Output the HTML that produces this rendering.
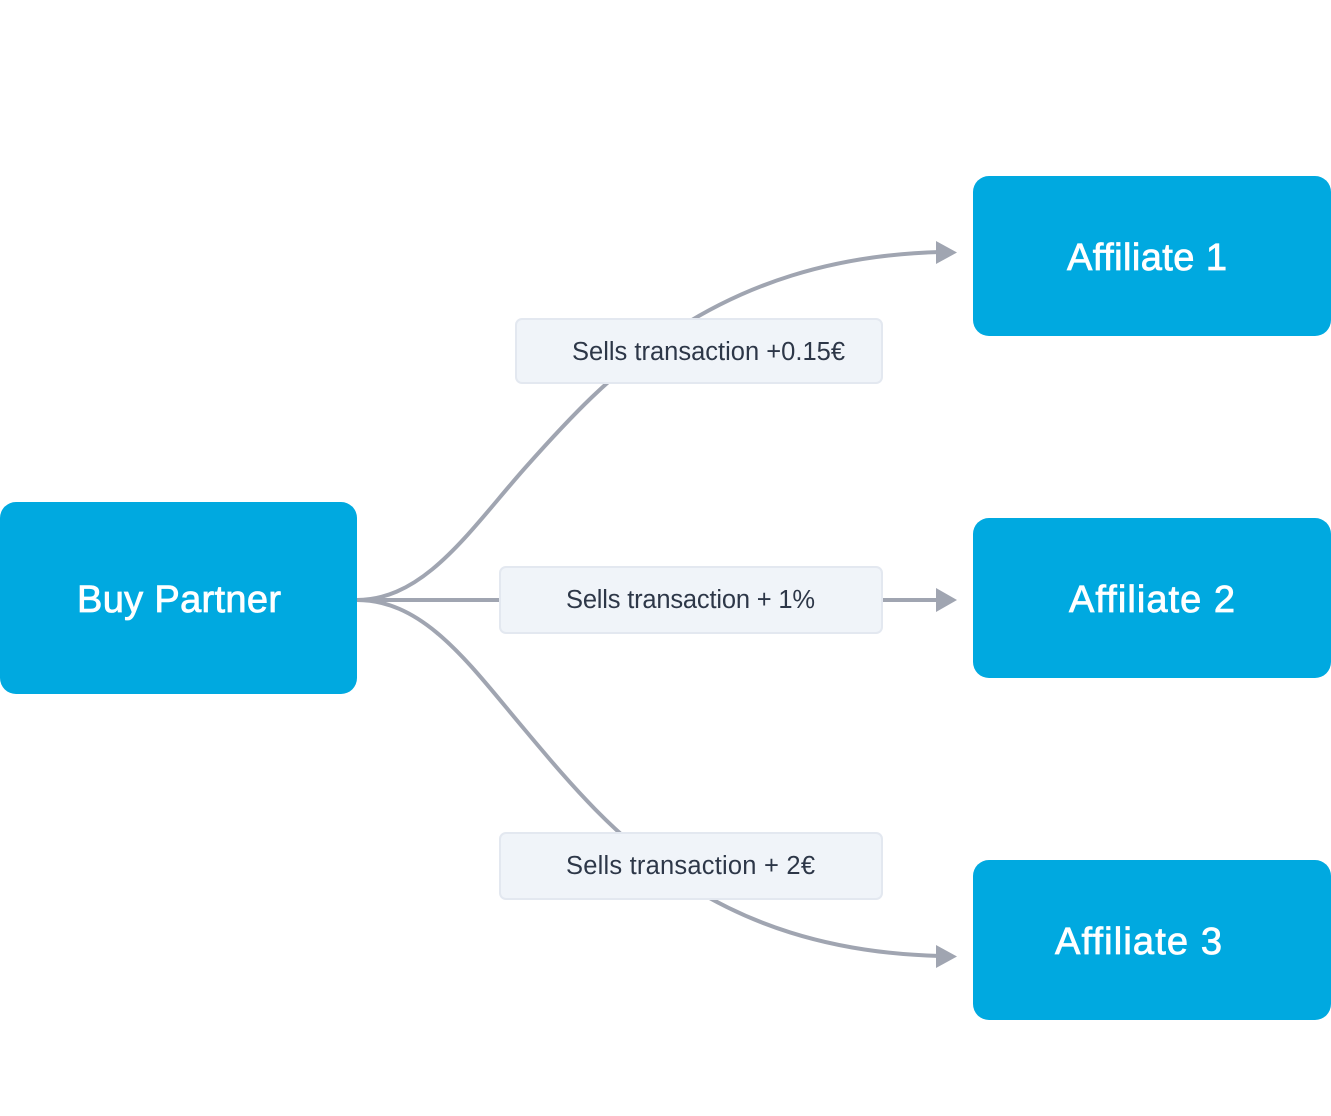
<!DOCTYPE html>
<html>
<head>
<meta charset="utf-8">
<style>
html,body{margin:0;padding:0;background:#fff;width:1331px;height:1116px;overflow:hidden}
svg{display:block}
text{font-family:"Liberation Sans",sans-serif}
.n{font-size:38px;fill:#fff;stroke:#fff;stroke-width:.8px}
.l{font-size:25.5px;fill:#2d3748}
</style>
</head>
<body>
<svg width="1331" height="1116" viewBox="0 0 1331 1116" xmlns="http://www.w3.org/2000/svg">
<g fill="none" stroke="#a0a5b1" stroke-width="4">
<path d="M357,600 C425,600 470,530 525,468 C605,378 715,258 940,252"/>
<path d="M357,600 L940,600"/>
<path d="M357,600 C425,600 470,665 525,730 C605,825 705,950 940,956"/>
</g>
<g fill="#a0a5b1">
<path d="M936,241 L957,252.500 L936,264 Z"/>
<path d="M936,588 L957,600 L936,612 Z"/>
<path d="M936,945 L957,956.500 L936,968 Z"/>
</g>
<g fill="#00a9e0">
<rect x="0" y="502" width="357" height="192" rx="16"/>
<rect x="973" y="176" width="358" height="160" rx="16"/>
<rect x="973" y="518" width="358" height="160" rx="16"/>
<rect x="973" y="860" width="358" height="160" rx="16"/>
</g>
<g fill="#f0f4f9" stroke="#e3e8f0" stroke-width="2">
<rect x="516" y="319" width="366" height="64" rx="6"/>
<rect x="500" y="567" width="382" height="66" rx="6"/>
<rect x="500" y="833" width="382" height="66" rx="6"/>
</g>
<text class="n" x="77" y="612" textLength="204" lengthAdjust="spacing">Buy Partner</text>
<text class="n" x="1067" y="270" textLength="160" lengthAdjust="spacing">Affiliate 1</text>
<text class="n" x="1069" y="612" textLength="166" lengthAdjust="spacing">Affiliate 2</text>
<text class="n" x="1055" y="954" textLength="167" lengthAdjust="spacing">Affiliate 3</text>
<text class="l" x="572" y="360" textLength="273" lengthAdjust="spacing">Sells transaction +0.15€</text>
<text class="l" x="566" y="608" textLength="249" lengthAdjust="spacing">Sells transaction + 1%</text>
<text class="l" x="566" y="874" textLength="249" lengthAdjust="spacing">Sells transaction + 2€</text>
</svg>
</body>
</html>
